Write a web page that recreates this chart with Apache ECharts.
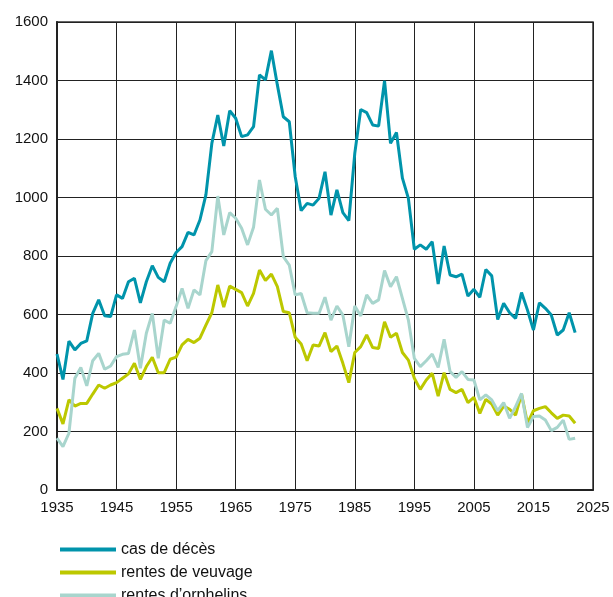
<!DOCTYPE html>
<html>
<head>
<meta charset="utf-8">
<script src="https://cdn.jsdelivr.net/npm/echarts@6/dist/echarts.min.js"></script>
<style>
    html, body, #main {
        width: 100%;
        height: 100%;
        margin: 0;
        background: #fff;
    }
</style>
</head>
<body>
<div id="main"></div>
<script>
    // years 1935..2022
    var firstYear = 1935;
    var lastAxisYear = 2025;

    var casDeces = [
        465, 378, 509, 479, 501, 510, 604, 650, 596, 593,
        667, 655, 712, 724, 640, 712, 767, 727, 712, 775,
        812, 832, 881, 872, 923, 1009, 1185, 1282, 1176, 1297,
        1271, 1208, 1214, 1242, 1419, 1402, 1502, 1385, 1276, 1259,
        1071, 955, 980, 974, 997, 1088, 940, 1026, 948, 921,
        1151, 1301, 1290, 1248, 1244, 1399, 1185, 1222, 1066, 997,
        823, 838, 823, 849, 704, 834, 735, 729, 738, 663,
        686, 659, 754, 732, 583, 638, 606, 587, 675, 615,
        547, 640, 621, 598, 530, 547, 606, 538
    ];
    var rentesVeuvage = [
        279, 226, 308, 287, 296, 296, 328, 359, 348, 359,
        367, 382, 397, 433, 378, 422, 454, 401, 401, 447,
        454, 496, 515, 504, 519, 564, 606, 701, 625, 697,
        686, 675, 629, 672, 752, 716, 738, 695, 610, 606,
        522, 499, 442, 496, 492, 538, 473, 492, 433, 367,
        470, 490, 530, 487, 484, 575, 522, 536, 470, 444,
        382, 344, 376, 399, 321, 401, 344, 333, 344, 299,
        317, 262, 310, 294, 256, 287, 276, 256, 328, 228,
        271, 279, 285, 264, 245, 256, 253, 228
    ];
    var rentesOrphelins = [
        177, 148, 194, 382, 419, 356, 442, 467, 413, 424,
        456, 464, 467, 547, 416, 536, 604, 450, 581, 570,
        627, 689, 621, 684, 667, 784, 815, 1005, 872, 948,
        929, 895, 838, 898, 1060, 960, 940, 963, 798, 769,
        667, 672, 606, 604, 604, 659, 581, 629, 598, 490,
        629, 595, 667, 638, 650, 750, 695, 729, 655, 581,
        450, 422, 442, 465, 419, 515, 405, 385, 405, 378,
        376, 308, 325, 308, 271, 299, 245, 285, 330, 214,
        251, 253, 239, 203, 214, 239, 173, 177
    ];

    var years = [];
    for (var y = firstYear; y <= lastAxisYear; y++) {
        years.push(String(y));
    }

    var font = 'Liberation Sans, Arial, sans-serif';
    var chart = echarts.init(document.getElementById('main'));

    function lineSeries(name, data, color) {
        return {
            name: name,
            type: 'line',
            data: data,
            symbol: 'none',
            lineStyle: { color: color, width: 3 },
            itemStyle: { color: color },
            animation: false
        };
    }

    chart.setOption({
        animation: false,
        grid: {
            left: 57,
            right: 20,
            top: 22,
            bottom: 107,
            show: true,
            borderColor: '#333',
            borderWidth: 1.5
        },
        legend: {
            orient: 'vertical',
            left: 60,
            top: 540,
            height: 90,
            padding: 0,
            icon: 'rect',
            itemWidth: 56,
            itemHeight: 4,
            itemGap: 4,
            itemTextGap: 6,
            data: ['cas de décès', 'rentes de veuvage', 'rentes d\u2019orphelins'],
            textStyle: { fontFamily: font, fontSize: 16, lineHeight: 19, color: '#111' }
        },
        xAxis: {
            type: 'category',
            data: years,
            boundaryGap: false,
            axisLine: { lineStyle: { color: '#222', width: 2 } },
            axisTick: { show: false },
            axisLabel: {
                interval: 9,
                color: '#111',
                fontFamily: font,
                fontSize: 15,
                margin: 10
            },
            splitLine: {
                show: true,
                interval: 9,
                lineStyle: { color: '#222', width: 1 }
            }
        },
        yAxis: {
            type: 'value',
            min: 0,
            max: 1600,
            interval: 200,
            axisLine: { show: true, lineStyle: { color: '#222', width: 2 } },
            axisTick: { show: false },
            axisLabel: {
                color: '#111',
                fontFamily: font,
                fontSize: 15,
                margin: 9,
                formatter: function (v) { return String(v); }
            },
            splitLine: { lineStyle: { color: '#222', width: 1 } }
        },
        series: [
            lineSeries('cas de décès', casDeces, '#0094ab'),
            lineSeries('rentes de veuvage', rentesVeuvage, '#bcc800'),
            lineSeries('rentes d\u2019orphelins', rentesOrphelins, '#a8d5cd')
        ]
    });
</script>
</body>
</html>
